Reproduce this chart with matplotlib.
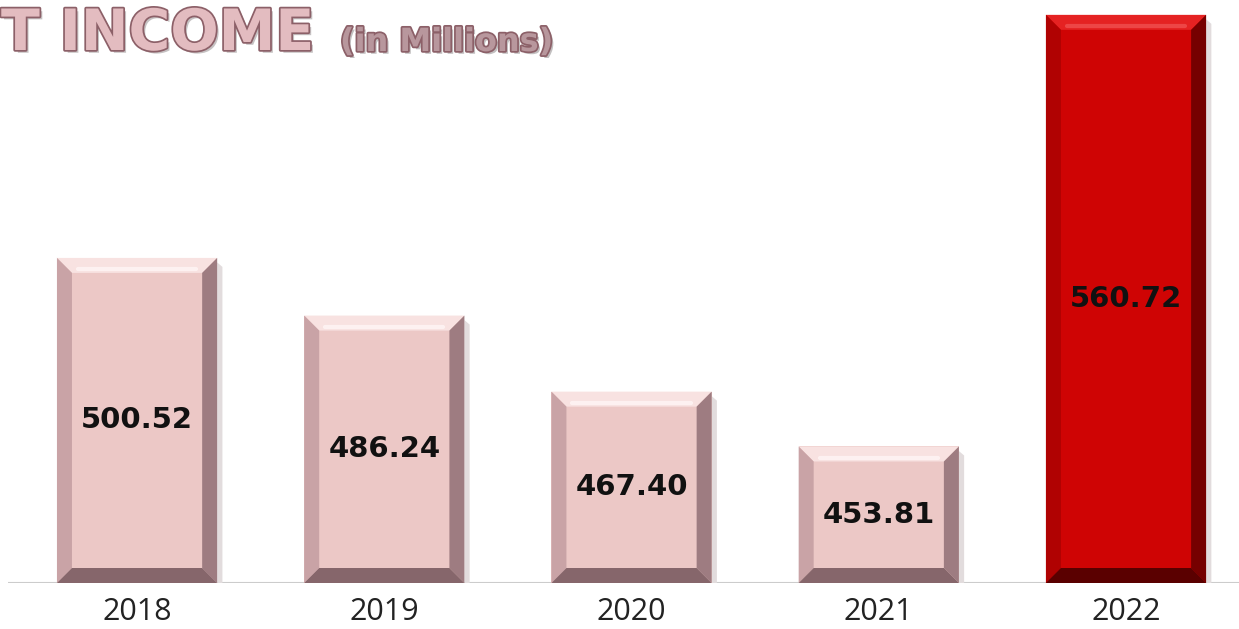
import numpy as np
import matplotlib.pyplot as plt
import matplotlib.patheffects as pe
from matplotlib.patches import Polygon

years = ['2018', '2019', '2020', '2021', '2022']
income = [500.52, 486.24, 467.40, 453.81, 560.72]
labels = ['500.52', '486.24', '467.40', '453.81', '560.72']

pink = dict(face='#ecc8c6', top='#f8e2e1', left='#c9a3a6', right='#9e7c81', bottom='#86666b',
            glow='#fff6f6')
red = dict(face='#cf0404', top='#e52222', left='#b00202', right='#760000', bottom='#5a0000',
           glow='#f05050')

fig = plt.figure(figsize=(12.39, 6.29), dpi=100)
ax = fig.add_axes([8 / 1239, 46 / 629, 1 - 8 / 1239, 583 / 629])
ax.set_xlim(-0.522, 4.457)
ax.set_ylim(420, 564.4)

x = np.arange(len(years))
width = 0.648
palette = [pink, pink, pink, pink, red]
bars = ax.bar(x, income, width=width, color=[p['face'] for p in palette],
              edgecolor='none', zorder=2)

# bevel thickness in pixels, converted to data units
bev_px = 15
(px0, py0), (px1, py1) = ax.transData.transform([(0, 420), (1, 421)])
bx = bev_px / (px1 - px0)
by = bev_px / (py1 - py0)
ybase = ax.get_ylim()[0]

for bar, p in zip(bars, palette):
    x0 = bar.get_x()
    x1 = x0 + bar.get_width()
    y1 = bar.get_height()
    y0 = ybase
    # soft drop shadow on the right side
    ax.add_patch(Polygon([(x1, y0), (x1, y1 - by * 0.3), (x1 + bx * 0.35, y1 - by * 0.6),
                          (x1 + bx * 0.35, y0)], closed=True, facecolor='#e2dcdd',
                         edgecolor='none', zorder=1.5))
    faces = {
        'top': [(x0, y1), (x1, y1), (x1 - bx, y1 - by), (x0 + bx, y1 - by)],
        'left': [(x0, y0), (x0, y1), (x0 + bx, y1 - by), (x0 + bx, y0 + by)],
        'right': [(x1, y0), (x1, y1), (x1 - bx, y1 - by), (x1 - bx, y0 + by)],
        'bottom': [(x0, y0), (x1, y0), (x1 - bx, y0 + by), (x0 + bx, y0 + by)],
    }
    for k, pts in faces.items():
        ax.add_patch(Polygon(pts, closed=True, facecolor=p[k], edgecolor='none', zorder=3))
    # highlight streak along the inner top edge
    ax.plot([x0 + bx * 1.4, x1 - bx * 1.4], [y1 - by * 0.75, y1 - by * 0.75],
            color=p['glow'], lw=3, alpha=0.8, solid_capstyle='round', zorder=3.5)

for xi, v, lab in zip(x, income, labels):
    ax.text(xi, (ybase + v) / 2, lab, ha='center', va='center', fontsize=21,
            fontweight='bold', family='DejaVu Sans', color='#111111', zorder=4)

ax.axhline(ybase, color='#cccccc', lw=1.5, zorder=1)
for s in ax.spines.values():
    s.set_visible(False)
ax.set_xticks([])
ax.set_yticks([])

for xi, yr in zip(x, years):
    ax.text(xi, -0.05, yr, transform=ax.get_xaxis_transform(), ha='center', va='center',
            fontsize=22, family='Open Sans', color='#222222')

title_fx = [pe.SimplePatchShadow(offset=(2, -2), alpha=0.3),
            pe.withStroke(linewidth=2.5, foreground='#8c6068')]
fig.text(1 / 1239, 1 - 50 / 629, 'T INCOME', ha='left', va='baseline', fontsize=41,
         fontweight='bold', family='DejaVu Sans', color='#e3bcc0', path_effects=title_fx)
fig.text(340 / 1239, 1 - 51 / 629, '(in Millions)', ha='left', va='baseline', fontsize=23,
         fontweight='bold', family='DejaVu Sans', color='#b8979d', path_effects=title_fx)

fig.savefig('out.png', dpi=100)
